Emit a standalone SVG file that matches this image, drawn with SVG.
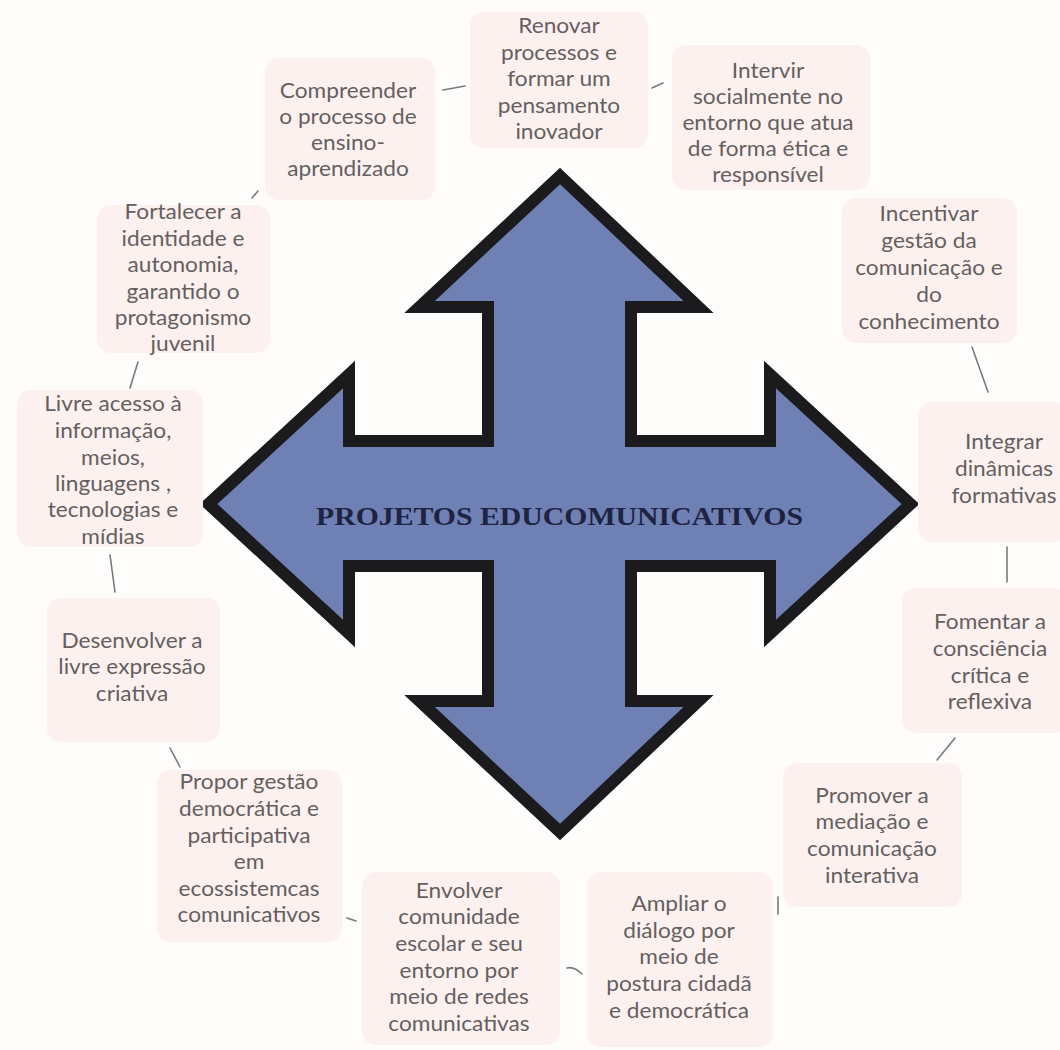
<svg xmlns="http://www.w3.org/2000/svg" width="1060" height="1050" viewBox="0 0 1060 1050">
<style>
.box{fill:#fcf1ef}
.t{font-family:Lato,"Noto Sans","Liberation Sans",sans-serif;font-size:21px;fill:#655f5f;text-anchor:middle}
.c{stroke:#7a7a7a;stroke-width:1.6;fill:none;stroke-linecap:round}
.arrow{fill:#6f80b4;stroke:#1b1b1d;stroke-width:12;stroke-linejoin:miter}
.title{font-family:"Liberation Serif","Times New Roman",serif;font-weight:bold;font-size:26px;fill:#1d2340;text-anchor:middle}
</style>
<rect width="1060" height="1050" fill="#fefdfb"/>
<g id="connectors">
<line class="c" x1="443" y1="90" x2="465" y2="86"/>
<line class="c" x1="652" y1="88" x2="663" y2="83"/>
<line class="c" x1="252" y1="198" x2="258" y2="191"/>
<line class="c" x1="138" y1="362" x2="130" y2="388"/>
<line class="c" x1="110" y1="555" x2="115" y2="592"/>
<line class="c" x1="170" y1="748" x2="180" y2="767"/>
<line class="c" x1="347" y1="918" x2="356" y2="921"/>
<path class="c" d="M567,968 Q574,966 582,974"/>
<line class="c" x1="778" y1="897" x2="778" y2="914"/>
<line class="c" x1="972" y1="347" x2="988" y2="392"/>
<line class="c" x1="1007" y1="547" x2="1007" y2="582"/>
<line class="c" x1="955" y1="738" x2="937" y2="760"/>
</g>
<g id="center">
<polygon class="arrow" points="560,176 698.5,307 631,307 631,441 770,441 770,374.5 910.5,504 770,633.5 770,566 631,566 631,701 698.5,701 560,832 419.5,701 488,701 488,566 349,566 349,633.5 208.5,504 349,374.5 349,441 488,441 488,307 419.5,307"/>
<text class="title" x="559.5" y="525" textLength="487" lengthAdjust="spacingAndGlyphs">PROJETOS EDUCOMUNICATIVOS</text>
</g>
<g id="nA">
<rect class="box" x="470" y="12" width="178" height="136" rx="14"/>
<text class="t" transform="translate(559,0) scale(1.08,1)"><tspan x="0" y="33">Renovar</tspan><tspan x="0" y="60">processos e</tspan><tspan x="0" y="86">formar um</tspan><tspan x="0" y="113">pensamento</tspan><tspan x="0" y="139">inovador</tspan></text>
</g>
<g id="nB">
<rect class="box" x="265" y="58" width="170" height="142" rx="14"/>
<text class="t" transform="translate(348,0) scale(1.08,1)"><tspan x="0" y="98">Compreender</tspan><tspan x="0" y="124">o processo de</tspan><tspan x="0" y="150">ensino-</tspan><tspan x="0" y="176">aprendizado</tspan></text>
</g>
<g id="nC">
<rect class="box" x="672" y="45" width="198" height="145" rx="14"/>
<text class="t" transform="translate(768,0) scale(1.08,1)"><tspan x="0" y="78">Intervir</tspan><tspan x="0" y="104">socialmente no</tspan><tspan x="0" y="130">entorno que atua</tspan><tspan x="0" y="156">de forma ética e</tspan><tspan x="0" y="182">responsível</tspan></text>
</g>
<g id="nD">
<rect class="box" x="97" y="205" width="173" height="148" rx="14"/>
<text class="t" transform="translate(183,0) scale(1.08,1)"><tspan x="0" y="219">Fortalecer a</tspan><tspan x="0" y="246">identidade e</tspan><tspan x="0" y="272">autonomia,</tspan><tspan x="0" y="299">garantido o</tspan><tspan x="0" y="325">protagonismo</tspan><tspan x="0" y="351">juvenil</tspan></text>
</g>
<g id="nE">
<rect class="box" x="17" y="390" width="186" height="157" rx="14"/>
<text class="t" transform="translate(113,0) scale(1.08,1)"><tspan x="0" y="411">Livre acesso à</tspan><tspan x="0" y="438">informação,</tspan><tspan x="0" y="465">meios,</tspan><tspan x="0" y="491">linguagens ,</tspan><tspan x="0" y="517">tecnologias e</tspan><tspan x="0" y="544">mídias</tspan></text>
</g>
<g id="nF">
<rect class="box" x="842" y="198" width="175" height="145" rx="14"/>
<text class="t" transform="translate(929,0) scale(1.08,1)"><tspan x="0" y="221">Incentivar</tspan><tspan x="0" y="248">gestão da</tspan><tspan x="0" y="275">comunicação e</tspan><tspan x="0" y="302">do</tspan><tspan x="0" y="329">conhecimento</tspan></text>
</g>
<g id="nG">
<rect class="box" x="918" y="402" width="150" height="140" rx="14"/>
<text class="t" transform="translate(1004,0) scale(1.08,1)"><tspan x="0" y="449">Integrar</tspan><tspan x="0" y="476">dinâmicas</tspan><tspan x="0" y="503">formativas</tspan></text>
</g>
<g id="nH">
<rect class="box" x="902" y="588" width="166" height="145" rx="14"/>
<text class="t" transform="translate(990,0) scale(1.08,1)"><tspan x="0" y="629">Fomentar a</tspan><tspan x="0" y="656">consciência</tspan><tspan x="0" y="683">crítica e</tspan><tspan x="0" y="709">reflexiva</tspan></text>
</g>
<g id="nI">
<rect class="box" x="783" y="763" width="179" height="144" rx="14"/>
<text class="t" transform="translate(872,0) scale(1.08,1)"><tspan x="0" y="803">Promover a</tspan><tspan x="0" y="829">mediação e</tspan><tspan x="0" y="856">comunicação</tspan><tspan x="0" y="883">interativa</tspan></text>
</g>
<g id="nJ">
<rect class="box" x="587" y="872" width="186" height="175" rx="14"/>
<text class="t" transform="translate(679,0) scale(1.08,1)"><tspan x="0" y="911">Ampliar o</tspan><tspan x="0" y="938">diálogo por</tspan><tspan x="0" y="964">meio de</tspan><tspan x="0" y="991">postura cidadã</tspan><tspan x="0" y="1018">e democrática</tspan></text>
</g>
<g id="nK">
<rect class="box" x="362" y="872" width="198" height="173" rx="14"/>
<text class="t" transform="translate(459,0) scale(1.08,1)"><tspan x="0" y="898">Envolver</tspan><tspan x="0" y="924">comunidade</tspan><tspan x="0" y="951">escolar e seu</tspan><tspan x="0" y="978">entorno por</tspan><tspan x="0" y="1004">meio de redes</tspan><tspan x="0" y="1031">comunicativas</tspan></text>
</g>
<g id="nL">
<rect class="box" x="157" y="770" width="185" height="172" rx="14"/>
<text class="t" transform="translate(249,0) scale(1.08,1)"><tspan x="0" y="789">Propor gestão</tspan><tspan x="0" y="816">democrática e</tspan><tspan x="0" y="843">participativa</tspan><tspan x="0" y="869">em</tspan><tspan x="0" y="896">ecossistemcas</tspan><tspan x="0" y="922">comunicativos</tspan></text>
</g>
<g id="nM">
<rect class="box" x="47" y="598" width="173" height="144" rx="14"/>
<text class="t" transform="translate(132,0) scale(1.08,1)"><tspan x="0" y="648">Desenvolver a</tspan><tspan x="0" y="674">livre expressão</tspan><tspan x="0" y="701">criativa</tspan></text>
</g>
</svg>
